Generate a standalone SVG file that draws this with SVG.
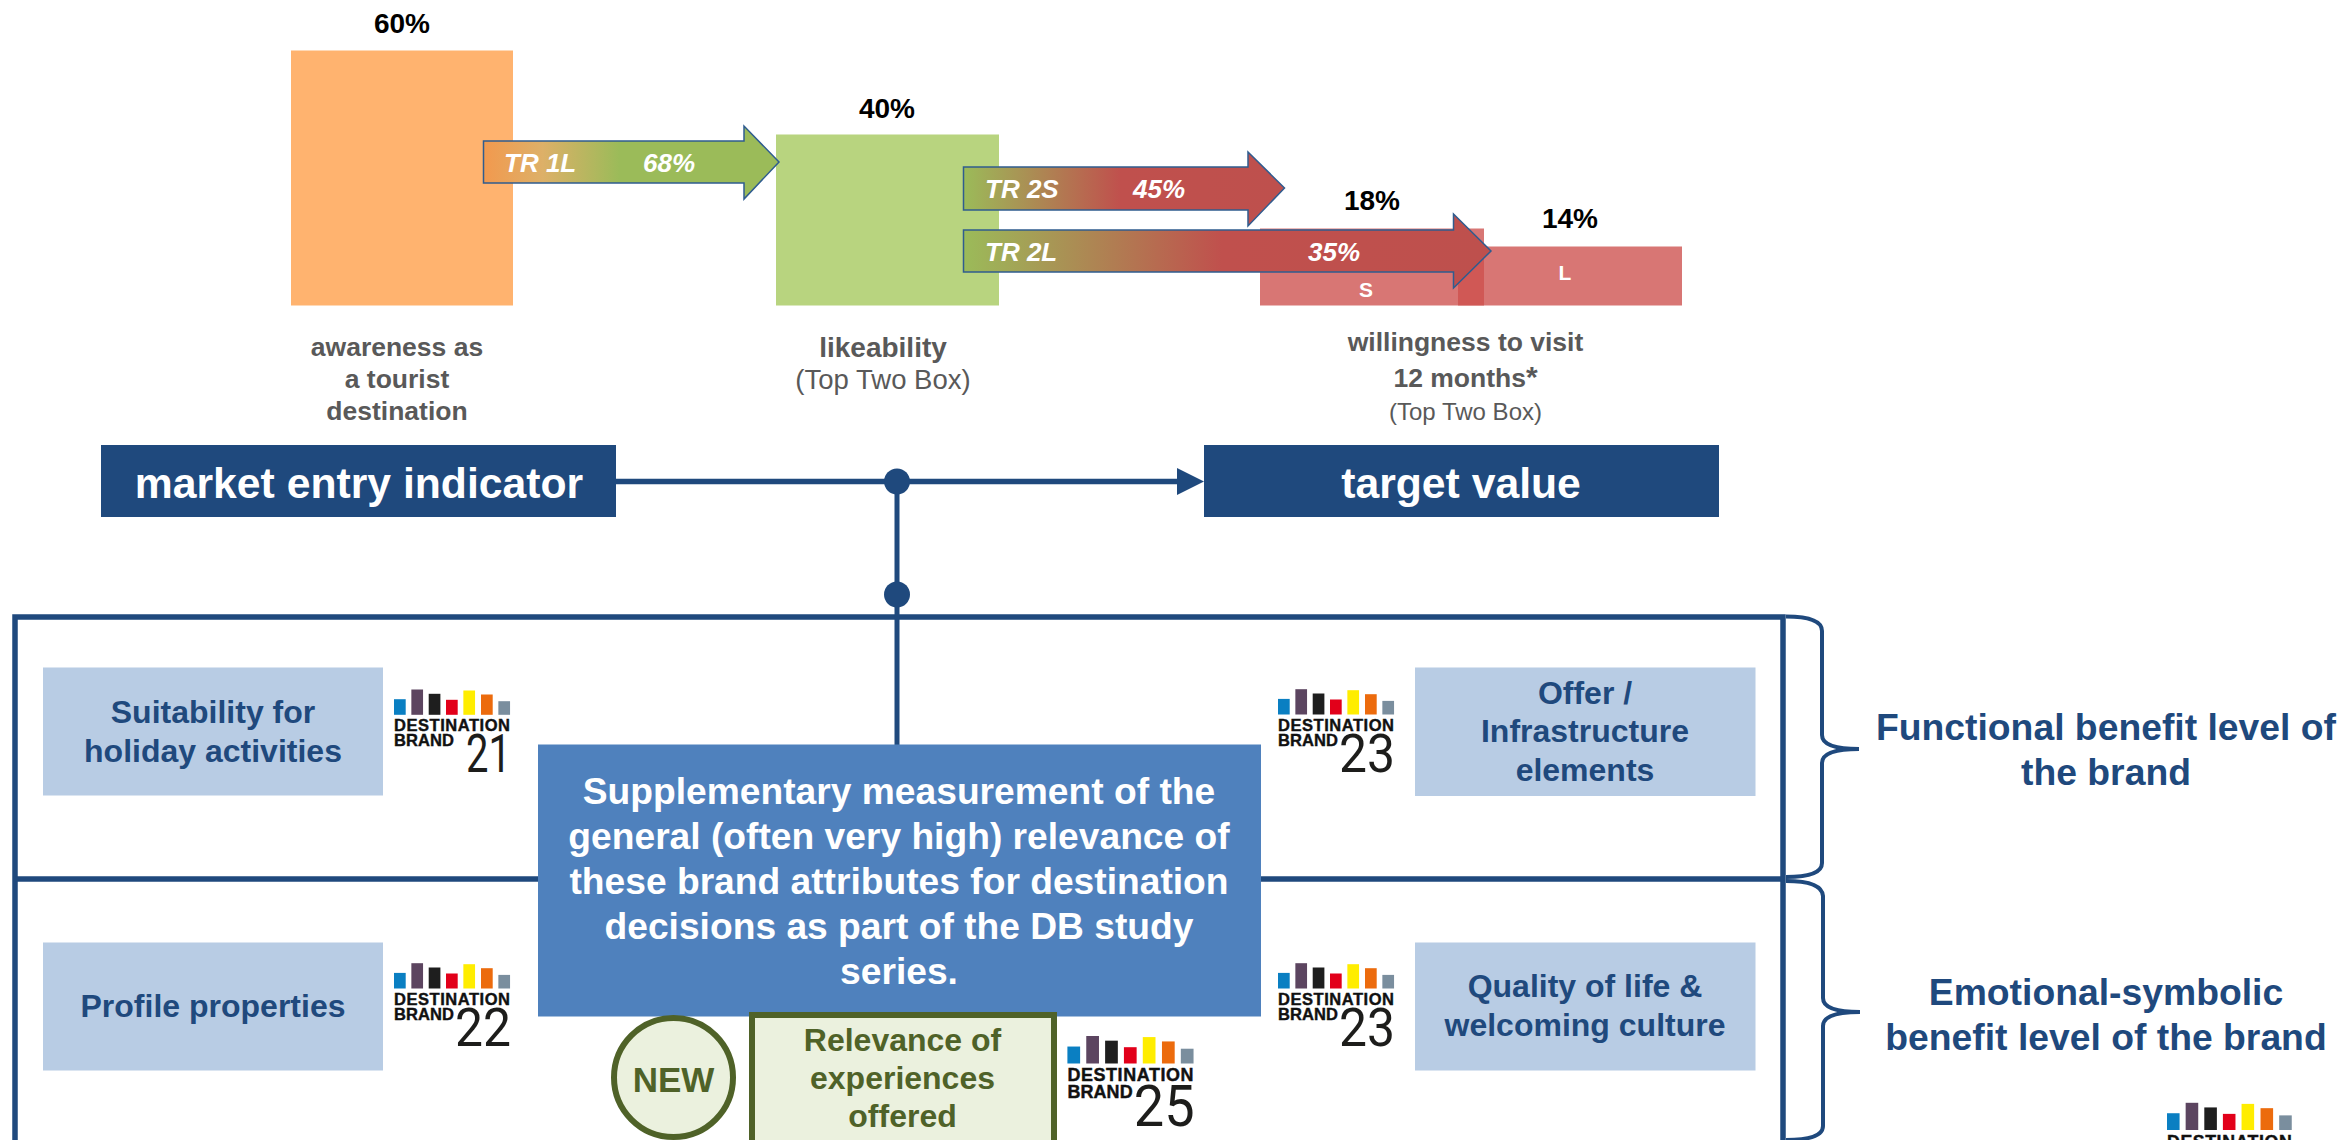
<svg xmlns="http://www.w3.org/2000/svg" width="2346" height="1140" viewBox="0 0 2346 1140">
<style>
text{font-family:"Liberation Sans",Arial,sans-serif;text-anchor:middle}
.b{font-weight:700}
.pct{font-size:28px;font-weight:700;fill:#000}
.lbl{font-size:26.5px;font-weight:700;fill:#595959}
.sub{font-size:27.5px;fill:#595959}
.tr{font-size:26px;font-weight:700;font-style:italic;fill:#fff;text-anchor:start}
.bar{fill:#1F497D}
.barT{font-size:42.7px;font-weight:700;fill:#fff}
.attr{fill:#B8CCE4}
.attrT{font-size:32px;font-weight:700;fill:#1F497D}
.side{font-size:37.3px;font-weight:700;fill:#1F497D}
.mid{font-size:37.2px;font-weight:700;fill:#fff}
.arrow{stroke:#2F5C8F;stroke-width:1.5}
.line{fill:none;stroke:#1F497D}
.rs{fill:#cd4f4d;fill-opacity:.78}
.new{font-weight:700;fill:#4F6228}
.ld{font-size:16.5px;font-weight:700;fill:#111;stroke:#111;stroke-width:.4;text-anchor:start}
.ln{font-family:Roboto,"Liberation Sans",sans-serif;font-weight:400;font-size:53px;fill:#1d1d1b;text-anchor:start}
</style>
<defs>
<linearGradient id="g1"><stop offset="0" stop-color="#F2994E"/><stop offset=".2" stop-color="#DDB068"/><stop offset=".46" stop-color="#9BBB59"/><stop offset="1" stop-color="#9BBB59"/></linearGradient>
<linearGradient id="g2"><stop offset="0" stop-color="#9BBB59"/><stop offset=".49" stop-color="#C0504D"/><stop offset="1" stop-color="#BE504D"/></linearGradient>
<g id="bars">
<rect x="0" y="-15.6" width="11.7" height="15.6" fill="#0A7FC2"/>
<rect x="17.35" y="-25.3" width="11.7" height="25.3" fill="#5C4560"/>
<rect x="34.7" y="-21" width="11.7" height="21" fill="#1E1E1E"/>
<rect x="52" y="-15" width="11.7" height="15" fill="#E2001A"/>
<rect x="69.35" y="-24.3" width="11.7" height="24.3" fill="#FFED00"/>
<rect x="87" y="-20.3" width="11.7" height="20.3" fill="#EC6B0D"/>
<rect x="104.35" y="-13.6" width="11.7" height="13.6" fill="#7A8E9E"/>
<text class="ld" x="0" y="16.4" textLength="116">DESTINATION</text>
</g>
</defs>

<g id="box-frame">
<rect x="15" y="617" width="1768" height="540" fill="#fff" stroke="#1F497D" stroke-width="5.5"/>
<line x1="15" y1="879" x2="1783" y2="879" stroke="#1F497D" stroke-width="5.5"/>
</g>

<g id="connectors">
<line class="line" x1="616" y1="481.500" x2="1180" y2="481.500" stroke-width="5.5"/>
<polygon points="1177,468 1204,481.500 1177,495" fill="#1F497D"/>
<line class="line" x1="897" y1="481" x2="897" y2="746" stroke-width="5"/>
<circle cx="897" cy="481.500" r="13" fill="#1F497D"/>
<circle cx="897" cy="594.500" r="13" fill="#1F497D"/>
<path class="line" stroke-width="4" d="M1786 616.500Q1822 616.500 1822 631V735Q1822 749 1859 749Q1822 749 1822 763V863Q1822 877 1786 877"/>
<path class="line" stroke-width="4" d="M1786 881Q1822 881 1823 896V998Q1823 1012 1860 1012Q1823 1012 1823 1026V1126Q1823 1140 1786 1140"/>
</g>

<g id="awareness">
<rect x="291" y="50.500" width="222" height="255" fill="#FFB36F"/>
<text class="pct" x="402" y="33">60%</text>
<text class="lbl" x="397" y="356">awareness as</text>
<text class="lbl" x="397" y="387.500">a tourist</text>
<text class="lbl" x="397" y="420">destination</text>
</g>
<g id="likeability">
<rect x="776" y="134.500" width="223" height="171" fill="#B8D47F"/>
<text class="pct" x="887" y="118">40%</text>
<text class="lbl" style="font-size:28px" x="883" y="357">likeability</text>
<text class="sub" x="883" y="389">(Top Two Box)</text>
</g>
<g id="willingness">
<rect class="rs" x="1260" y="228.500" width="224" height="77"/>
<rect class="rs" x="1458" y="246.500" width="224" height="59"/>
<text class="pct" x="1372" y="210">18%</text>
<text class="pct" x="1570" y="228">14%</text>
<text x="1366" y="297" font-size="21" class="b" fill="#fff">S</text>
<text x="1565" y="280" font-size="21" class="b" fill="#fff">L</text>
<text class="lbl" x="1465.500" y="351">willingness to visit</text>
<text class="lbl" x="1465.500" y="387">12 months<tspan font-size="30">*</tspan></text>
<text class="sub" style="font-size:24px" x="1465.500" y="419.500">(Top Two Box)</text>
</g>
<g id="tr-1l">
<path class="arrow" fill="url(#g1)" d="M483.500 141H744V126L779 162L744 199V183H483.500Z"/>
<text class="tr" x="504" y="172">TR 1L</text>
<text class="tr" x="643" y="172">68%</text>
</g>
<g id="tr-2s">
<path class="arrow" fill="url(#g2)" d="M963.500 167H1248V152L1284.500 188L1248 226V210H963.500Z"/>
<text class="tr" x="985" y="198">TR 2S</text>
<text class="tr" x="1133" y="198">45%</text>
</g>
<g id="tr-2l">
<path class="arrow" fill="url(#g2)" d="M963.500 230H1453.500V214L1491 251L1453.500 288V272H963.500Z"/>
<text class="tr" x="985" y="261">TR 2L</text>
<text class="tr" x="1308" y="261">35%</text>
</g>

<g id="market-entry">
<rect class="bar" x="101" y="445" width="515" height="72"/>
<text class="barT" x="359" y="497.500">market entry indicator</text>
</g>
<g id="target-value">
<rect class="bar" x="1204" y="445" width="515" height="72"/>
<text class="barT" x="1461" y="497.500">target value</text>
</g>

<g id="suitability">
<rect class="attr" x="43" y="667.500" width="340" height="128"/>
<text class="attrT" x="213" y="723">Suitability for</text>
<text class="attrT" x="213" y="762">holiday activities</text>
</g>
<g id="logo-21" transform="translate(394 714.800)">
<use href="#bars"/><text class="ld" x="0" y="31.700" textLength="60">BRAND</text>
<text class="ln" x="72" y="57.700" textLength="45" lengthAdjust="spacingAndGlyphs">21</text>
</g>
<g id="profile">
<rect class="attr" x="43" y="942.500" width="340" height="128"/>
<text class="attrT" x="213" y="1017">Profile properties</text>
</g>
<g id="logo-22" transform="translate(394 988.500)">
<use href="#bars"/><text class="ld" x="0" y="31.700" textLength="60">BRAND</text>
<text class="ln" x="61" y="57.700" textLength="56" lengthAdjust="spacingAndGlyphs">22</text>
</g>
<g id="offer">
<rect class="attr" x="1415" y="667.500" width="340.500" height="128.500"/>
<text class="attrT" x="1585" y="704">Offer /</text>
<text class="attrT" x="1585" y="742">Infrastructure</text>
<text class="attrT" x="1585" y="781">elements</text>
</g>
<g id="logo-23a" transform="translate(1278 714.500)">
<use href="#bars"/><text class="ld" x="0" y="31.700" textLength="60">BRAND</text>
<text class="ln" x="61" y="57.700" textLength="56" lengthAdjust="spacingAndGlyphs">23</text>
</g>
<g id="quality">
<rect class="attr" x="1415" y="942.500" width="340.500" height="128"/>
<text class="attrT" x="1585" y="997">Quality of life &amp;</text>
<text class="attrT" x="1585" y="1036">welcoming culture</text>
</g>
<g id="logo-23b" transform="translate(1278 988.500)">
<use href="#bars"/><text class="ld" x="0" y="31.700" textLength="60">BRAND</text>
<text class="ln" x="61" y="57.700" textLength="56" lengthAdjust="spacingAndGlyphs">23</text>
</g>

<g id="supplementary">
<rect x="538" y="744.500" width="723" height="272" fill="#4F81BD"/>
<text class="mid" x="899" y="804">Supplementary measurement of the</text>
<text class="mid" x="899" y="849">general (often very high) relevance of</text>
<text class="mid" x="899" y="894">these brand attributes for destination</text>
<text class="mid" x="899" y="939">decisions as part of the DB study</text>
<text class="mid" x="899" y="984">series.</text>
</g>
<g id="new-badge">
<circle cx="673.500" cy="1077.500" r="59.500" fill="#EBF1DE" stroke="#4F6228" stroke-width="6"/>
<text class="new" font-size="35" x="673.500" y="1092">NEW</text>
</g>
<g id="relevance">
<rect x="752" y="1015" width="302" height="160" fill="#EBF1DE" stroke="#4F6228" stroke-width="6"/>
<text class="new" font-size="32" x="902.500" y="1051">Relevance of</text>
<text class="new" font-size="32" x="902.500" y="1089">experiences</text>
<text class="new" font-size="32" x="902.500" y="1127">offered</text>
</g>
<g id="logo-25" transform="translate(1067.400 1063.500) scale(1.087)">
<use href="#bars"/><text class="ld" x="0" y="31.700" textLength="60">BRAND</text>
<text class="ln" x="61" y="57.700" textLength="56" lengthAdjust="spacingAndGlyphs">25</text>
</g>

<g id="functional-level">
<text class="side" x="2106" y="740">Functional benefit level of</text>
<text class="side" x="2106" y="785">the brand</text>
</g>
<g id="emotional-level">
<text class="side" x="2106" y="1004.500">Emotional-symbolic</text>
<text class="side" x="2106" y="1049.500">benefit level of the brand</text>
</g>
<g id="logo-corner" transform="translate(2167 1130) scale(1.075)">
<use href="#bars"/>
</g>
</svg>
